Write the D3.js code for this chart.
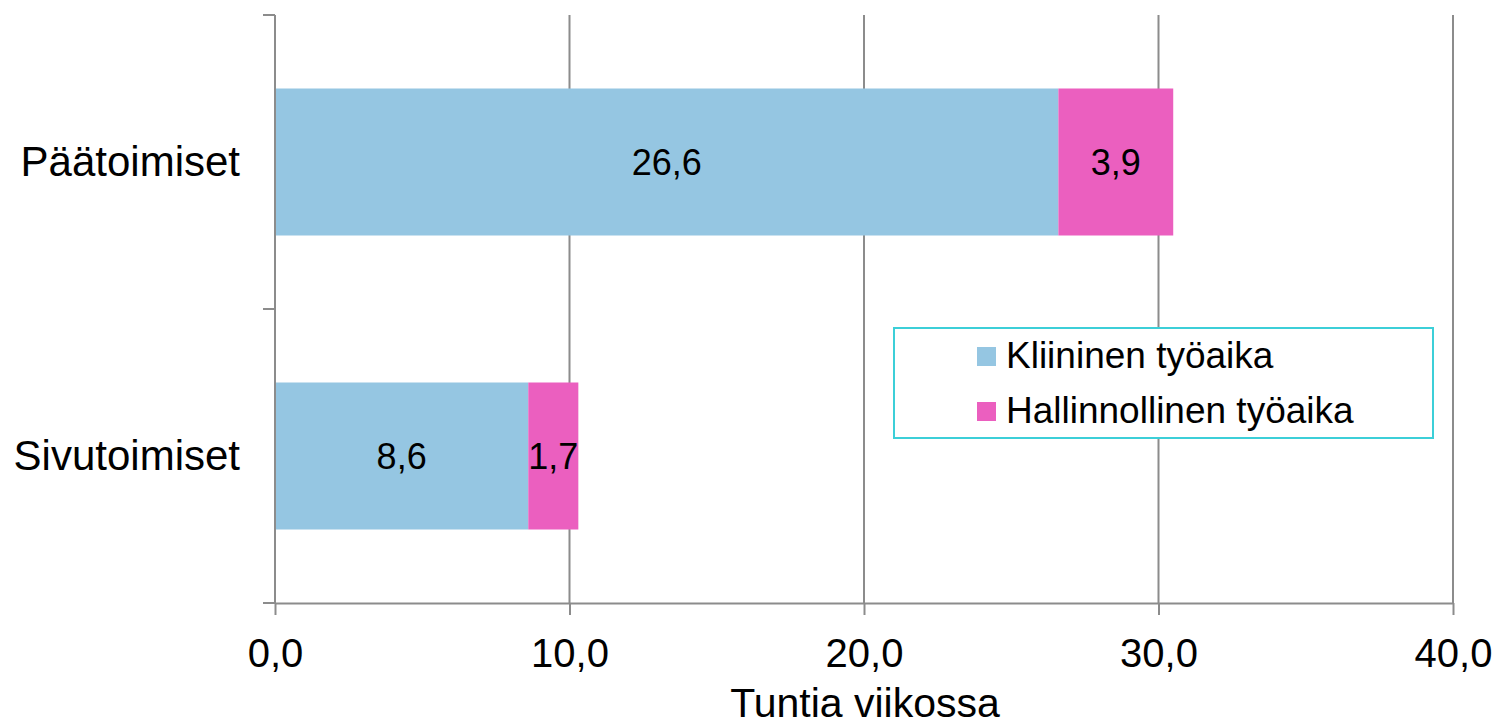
<!DOCTYPE html>
<html>
<head>
<meta charset="utf-8">
<script src="https://cdn.jsdelivr.net/npm/d3@7"></script>
<style>
  body { margin: 0; background: #fff; }
  svg { font-family: "Liberation Sans", Arial, sans-serif; display: block; }
</style>
</head>
<body>
<svg class="chart" width="1499" height="726"></svg>
<script>
  // data
  const categories = ["Päätoimiset", "Sivutoimiset"];
  const seriesNames = ["Kliininen työaika", "Hallinnollinen työaika"];
  const clinical = [26.6, 8.6];
  const admin = [3.9, 1.7];
  const xTicks = [0, 10, 20, 30, 40];
  const colors = ["#95c6e2", "#eb5fbf"];

  const svg = d3.select(".chart");
  const margin = { top: 15, right: 46, bottom: 123, left: 275 };
  const width = +svg.attr("width");
  const height = +svg.attr("height");
  const innerWidth = width - margin.left - margin.right;
  const innerHeight = height - margin.top - margin.bottom;
  const axisColor = "#8c8c8c";
  const fmt = d => d3.format(".1f")(d).replace(".", ",");

  const rows = categories.map((c, i) => ({ cat: c, vals: [clinical[i], admin[i]] }));

  const xScale = d3.scaleLinear().domain([0, 40]).range([0, innerWidth]);
  const yScale = d3.scaleBand()
    .domain(categories)
    .range([0, innerHeight])
    .paddingInner(0.5)
    .paddingOuter(0.25);

  const g = svg.append("g")
    .attr("transform", `translate(${margin.left},${margin.top})`);

  // vertical gridlines
  g.append("g")
    .selectAll("line").data(xTicks.slice(1))
    .enter().append("line")
      .attr("x1", d => xScale(d)).attr("x2", d => xScale(d))
      .attr("y1", 0).attr("y2", innerHeight)
      .attr("stroke", axisColor).attr("stroke-width", 2);

  // stacked bars
  const stacked = rows.map(r => {
    let acc = 0;
    return r.vals.map((v, k) => {
      const seg = { cat: r.cat, k: k, v: v, x0: acc, x1: acc + v };
      acc += v;
      return seg;
    });
  }).flat();

  g.selectAll("rect.seg").data(stacked)
    .enter().append("rect")
      .attr("class", "seg")
      .attr("x", d => xScale(d.x0))
      .attr("y", d => yScale(d.cat))
      .attr("width", d => xScale(d.x1) - xScale(d.x0))
      .attr("height", yScale.bandwidth())
      .attr("fill", d => colors[d.k]);

  g.selectAll("text.val").data(stacked)
    .enter().append("text")
      .attr("class", "val")
      .attr("x", d => xScale((d.x0 + d.x1) / 2))
      .attr("y", d => yScale(d.cat) + yScale.bandwidth() / 2)
      .attr("dy", "0.36em")
      .attr("text-anchor", "middle")
      .attr("font-size", 36)
      .attr("fill", "#000")
      .text(d => fmt(d.v));

  // x axis
  const xAxis = g.append("g")
    .attr("transform", `translate(0,${innerHeight})`)
    .call(d3.axisBottom(xScale).tickValues(xTicks).tickFormat(fmt)
      .tickSizeInner(12).tickSizeOuter(0).tickPadding(24));
  xAxis.select(".domain").attr("stroke", axisColor).attr("stroke-width", 2);
  xAxis.selectAll(".tick line").attr("stroke", axisColor).attr("stroke-width", 2);
  xAxis.selectAll(".tick text").attr("font-size", 40).attr("fill", "#000")
    .attr("font-family", "Liberation Sans, Arial, sans-serif");

  // y axis: line with ticks at band boundaries
  const step = yScale.step();
  const bounds = d3.range(categories.length + 1).map(i => i * step);
  g.append("line")
    .attr("x1", 0).attr("x2", 0).attr("y1", 0).attr("y2", innerHeight)
    .attr("stroke", axisColor).attr("stroke-width", 2);
  g.selectAll("line.ytick").data(bounds)
    .enter().append("line")
      .attr("class", "ytick")
      .attr("x1", -12).attr("x2", 0)
      .attr("y1", d => d).attr("y2", d => d)
      .attr("stroke", axisColor).attr("stroke-width", 2);
  g.selectAll("text.cat").data(categories)
    .enter().append("text")
      .attr("class", "cat")
      .attr("x", -35)
      .attr("y", d => yScale(d) + yScale.bandwidth() / 2)
      .attr("dy", "0.33em")
      .attr("text-anchor", "end")
      .attr("font-size", 42)
      .text(d => d);

  // axis title (kept just inside the bottom edge)
  g.append("text")
    .attr("x", innerWidth / 2 + 1)
    .attr("y", 702)
    .attr("text-anchor", "middle")
    .attr("font-size", 41)
    .text("Tuntia viikossa");

  // legend
  const legend = svg.append("g").attr("transform", "translate(894,328)");
  legend.append("rect")
    .attr("width", 539).attr("height", 110)
    .attr("fill", "#fff")
    .attr("stroke", "#3ccfd8").attr("stroke-width", 2);
  const items = legend.selectAll("g.item").data(seriesNames)
    .enter().append("g")
      .attr("class", "item")
      .attr("transform", (d, i) => `translate(83,${19 + i * 55})`);
  items.append("rect")
    .attr("width", 19).attr("height", 19)
    .attr("fill", (d, i) => colors[i]);
  items.append("text")
    .attr("x", 29).attr("y", 21)
    .attr("font-size", 37)
    .text(d => d);
</script>
</body>
</html>
